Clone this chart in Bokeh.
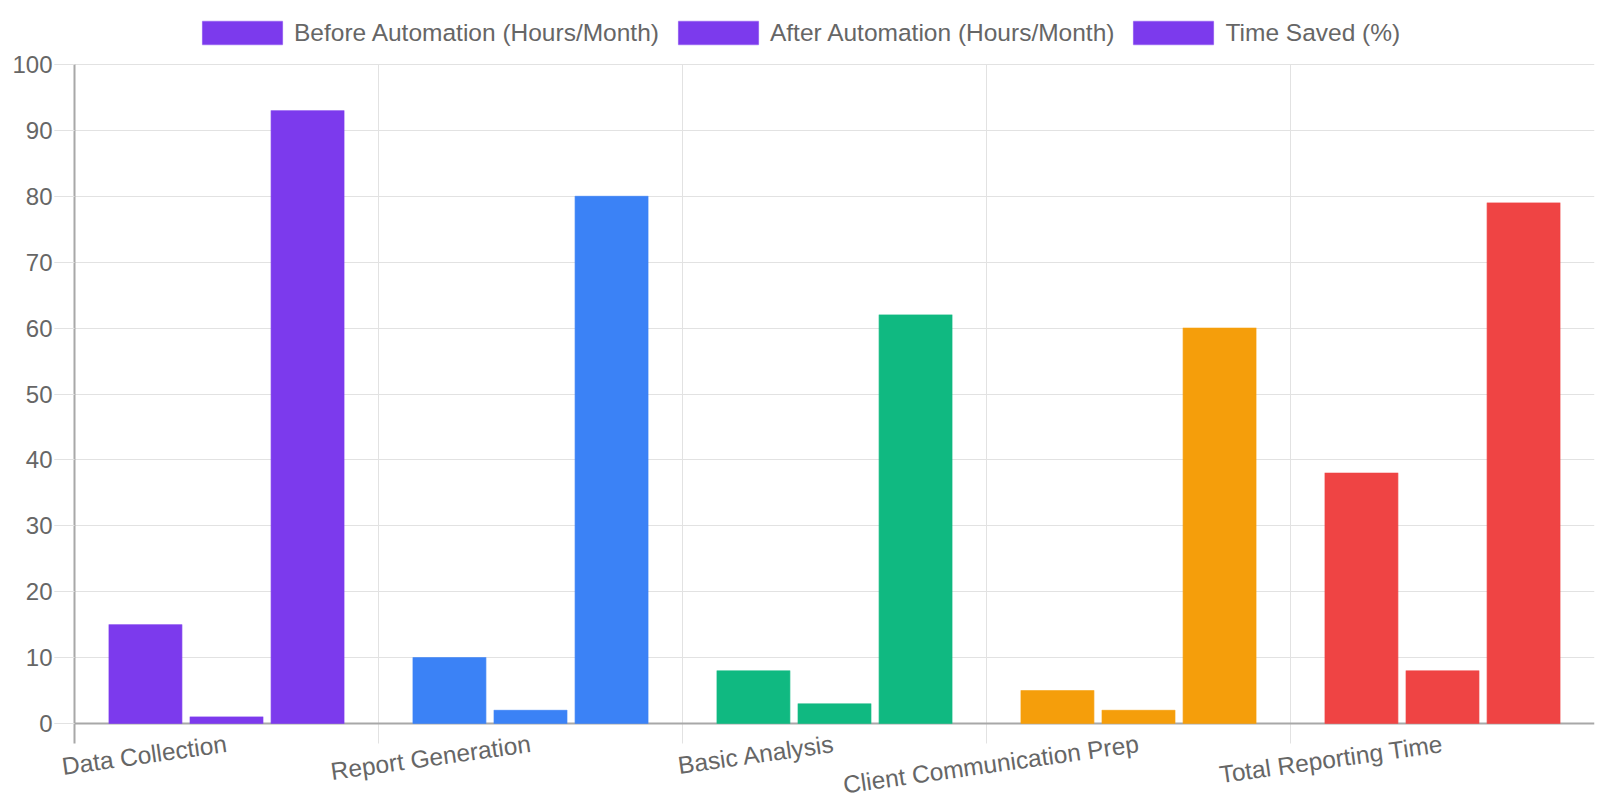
from bokeh.plotting import figure
from bokeh.models import (ColumnDataSource, Range1d, FixedTicker, Legend, LegendItem,
                          LabelSet, Grid)
from bokeh.core.properties import value
from bokeh.transform import dodge
from bokeh.embed import file_html
from bokeh.resources import INLINE

categories = ["Data Collection", "Report Generation", "Basic Analysis",
              "Client Communication Prep", "Total Reporting Time"]
before = [15, 10, 8, 5, 38]
after = [1, 2, 3, 2, 8]
saved = [93, 80, 62, 60, 79]
colors = ["#7c3aed", "#3b82f6", "#10b981", "#f59e0b", "#ef4444"]
series_names = ["Before Automation (Hours/Month)", "After Automation (Hours/Month)", "Time Saved (%)"]
y_ticks = list(range(0, 101, 10))

FONT = "Liberation Sans"
TEXT = "#666666"
GRID = "#e2e2e2"
AXIS = "#a8a8a8"

# layout (pixels)
W, H = 1600, 799
LEFT_PX, RIGHT_PX = 74, 1594       # screen x of the plot area edges
TOP_PX, ZERO_PX = 64, 723          # screen y of value 100 and of value 0
TICK = 20

n = len(categories)
ppu = (ZERO_PX - TOP_PX) / 100.0
ppx = (RIGHT_PX - LEFT_PX) / n
y_lo = -(H - ZERO_PX) / ppu
y_hi = 100 + TOP_PX / ppu
x_lo = -LEFT_PX / ppx
x_hi = n
tick_y = -TICK / ppu
tick_x = -TICK / ppx

pos = [i + 0.5 for i in range(n)]
src = ColumnDataSource(dict(x=pos, cat=categories, before=before, after=after,
                            saved=saved, color=colors))

p = figure(width=W, height=H, output_backend="svg", toolbar_location=None,
           x_range=Range1d(x_lo, x_hi), y_range=Range1d(y_lo, y_hi), x_axis_location=None,
           min_border_left=0, min_border_right=W - RIGHT_PX, min_border_top=0, min_border_bottom=0)
p.outline_line_color = None
p.background_fill_color = "white"
p.border_fill_color = "white"
p.xgrid.visible = False
p.ygrid.visible = False


def add_lines(dim, ticks, lo, hi, color, width):
    """Grid lines limited to [lo, hi] in the cross dimension."""
    try:
        g = Grid(dimension=dim, ticker=FixedTicker(ticks=ticks), grid_line_color=color,
                 grid_line_width=width)
        g.cross_bounds = (lo, hi)
        p.add_layout(g, "center")
    except Exception:
        if dim == 0:
            p.segment(x0=ticks, x1=ticks, y0=lo, y1=hi, line_color=color, line_width=width)
        else:
            p.segment(x0=lo, x1=hi, y0=ticks, y1=ticks, line_color=color, line_width=width)


boundaries = list(range(n + 1))
add_lines(1, y_ticks[1:], tick_x, n, GRID, 1)          # horizontal grid (+ left tick marks)
add_lines(0, boundaries[1:], tick_y, 100, GRID, 1)     # vertical grid (+ bottom tick marks)

slot = 0.8 / 3
bw = 0.9 * slot
renderers = []
for k, col in enumerate(["before", "after", "saved"]):
    r = p.vbar(x=dodge("x", (k - 1) * slot, range=p.x_range), top=col, width=bw, source=src,
               fill_color="color", line_color="color", line_alpha=0.55, line_width=1.2)
    renderers.append(r)

# base line at 0 (with its left tick mark)
add_lines(1, [0], tick_x, 0, GRID, 1)
add_lines(1, [0], 0, n, AXIS, 2)

# y axis drawn at x = 0
p.yaxis.fixed_location = 0
p.yaxis.ticker = FixedTicker(ticks=y_ticks)
p.yaxis.bounds = (tick_y, 100)
p.yaxis.axis_line_color = AXIS
p.yaxis.axis_line_width = 2
p.yaxis.major_tick_out = TICK
p.yaxis.major_tick_in = 0
p.yaxis.major_tick_line_color = GRID
p.yaxis.minor_tick_line_color = None
p.yaxis.major_label_text_font = FONT
p.yaxis.major_label_text_font_size = "24px"
p.yaxis.major_label_text_color = TEXT
p.yaxis.major_label_standoff = 2

# category labels (rotated)
labels = LabelSet(x="x", y=-20 / ppu, text="cat", source=src,
                  angle=0.14, text_align="right", text_baseline="middle",
                  text_font=value(FONT), text_font_size="24.5px", text_color=TEXT)
p.add_layout(labels)

# legend
items = [LegendItem(label=name, renderers=[r], index=0) for name, r in zip(series_names, renderers)]
legend = Legend(items=items, orientation="horizontal", location=(192, H - 47),
                glyph_width=100, glyph_height=29, label_height=29, label_standoff=2, spacing=9,
                padding=0, margin=0, border_line_color=None, background_fill_alpha=0,
                label_text_font=FONT, label_text_font_size="24.5px", label_text_color=TEXT)
p.add_layout(legend)

open("out.html", "w").write(file_html(p, INLINE))
